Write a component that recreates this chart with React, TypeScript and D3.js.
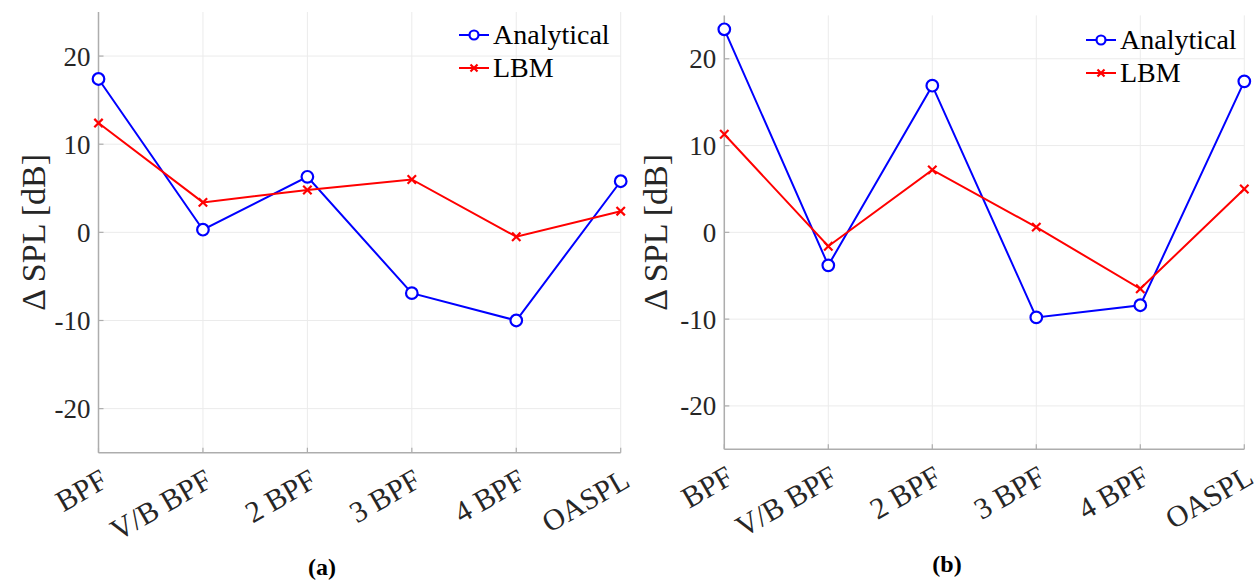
import React from 'react';
import {scalePoint, scaleLinear, line} from 'd3';

// categories and series values
const categories = ['BPF', 'V/B BPF', '2 BPF', '3 BPF', '4 BPF', 'OASPL'];
const yTicks = [-20, -10, 0, 10, 20];

const analyticalA = [17.4, 0.3, 6.3, -6.9, -10.0, 5.8];
const lbmA = [12.4, 3.4, 4.8, 6.0, -0.5, 2.4];

const analyticalB = [23.4, -3.8, 16.9, -9.8, -8.4, 17.4];
const lbmB = [11.3, -1.6, 7.2, 0.6, -6.5, 5.0];

const seriesNames = ['Analytical', 'LBM'];

const font = '"Liberation Serif", "DejaVu Serif", serif';
const textColor = '#262626';
const axisColor = '#adadad';
const gridColor = '#ebebeb';

type PanelProps = {
	x0: number; x1: number; y0: number; y1: number;
	analytical: number[]; lbm: number[];
	legendX: number; legendY: number;
	labelX: number; caption: string; captionX: number; captionY: number;
};

const Circle = ({x, y, r}: {x: number; y: number; r: number}) =>
	<circle cx={x} cy={y} r={r} fill='white' stroke='#0000ff' strokeWidth={2.2} />;

const Cross = ({x, y, s}: {x: number; y: number; s: number}) =>
	<path d={`M${x - s},${y - s}L${x + s},${y + s}M${x - s},${y + s}L${x + s},${y - s}`}
		stroke='#ff0000' strokeWidth={2.2} />;

const Panel = (p: PanelProps) => {
	const sx = scalePoint<string>().domain(categories).range([p.x0, p.x1]).padding(0);
	const sy = scaleLinear().domain([-25, 25]).range([p.y0, p.y1]);
	const gen = line<number>()
		.x((d, i) => sx(categories[i]) as number)
		.y(d => sy(d));
	const midY = (p.y0 + p.y1) / 2;

	return (
		<g>
			{/* grid */}
			{categories.map(c =>
				<line key={c} x1={sx(c)} x2={sx(c)} y1={p.y0} y2={p.y1} stroke={gridColor} strokeWidth={1} />
			)}
			{yTicks.map(t =>
				<line key={t} x1={p.x0} x2={p.x1} y1={sy(t)} y2={sy(t)} stroke={gridColor} strokeWidth={1} />
			)}
			{/* axes */}
			<line x1={p.x0} x2={p.x0} y1={p.y0} y2={p.y1} stroke={axisColor} strokeWidth={1.5} />
			<line x1={p.x0} x2={p.x1} y1={p.y0} y2={p.y0} stroke={axisColor} strokeWidth={1.5} />
			{yTicks.map(t =>
				<g key={t}>
					<line x1={p.x0} x2={p.x0 + 5} y1={sy(t)} y2={sy(t)} stroke={axisColor} strokeWidth={1.2} />
					<text x={p.x0 - 8} y={sy(t)} dy='0.35em' textAnchor='end'
						style={{fontFamily: font, fontSize: 27, fill: textColor}}>{t}</text>
				</g>
			)}
			{categories.map(c =>
				<g key={c}>
					<line x1={sx(c)} x2={sx(c)} y1={p.y0} y2={p.y0 - 5} stroke={axisColor} strokeWidth={1.2} />
					<text transform={`translate(${(sx(c) as number) + 11},${p.y0 + 33}) rotate(-30)`}
						textAnchor='end'
						style={{fontFamily: font, fontSize: 30, fill: textColor}}>{c}</text>
				</g>
			)}
			<text transform={`translate(${p.labelX},${midY}) rotate(-90)`} textAnchor='middle'
				style={{fontFamily: font, fontSize: 34, fill: textColor}}>Δ SPL [dB]</text>

			{/* series */}
			<path d={gen(p.analytical) || ''} fill='none' stroke='#0000ff' strokeWidth={2} />
			<path d={gen(p.lbm) || ''} fill='none' stroke='#ff0000' strokeWidth={2} />
			{p.analytical.map((v, i) =>
				<Circle key={i} x={sx(categories[i]) as number} y={sy(v)} r={5.8} />
			)}
			{p.lbm.map((v, i) =>
				<Cross key={i} x={sx(categories[i]) as number} y={sy(v)} s={4.2} />
			)}

			{/* legend */}
			{seriesNames.map((n, i) => {
				const ly = p.legendY + i * 33;
				return (
					<g key={n}>
						<line x1={p.legendX} x2={p.legendX + 30} y1={ly} y2={ly}
							stroke={i === 0 ? '#0000ff' : '#ff0000'} strokeWidth={2} />
						{i === 0
							? <Circle x={p.legendX + 15} y={ly} r={4.5} />
							: <Cross x={p.legendX + 15} y={ly} s={3.5} />}
						<text x={p.legendX + 34} y={ly + 8.5}
							style={{fontFamily: font, fontSize: 28, fill: '#000'}}>{n}</text>
					</g>
				);
			})}

			<text x={p.captionX} y={p.captionY} textAnchor='middle'
				style={{fontFamily: '"Liberation Serif", serif', fontWeight: 'bold', fontSize: 24, fill: '#000'}}>
				{p.caption}
			</text>
		</g>
	);
};

export default function App() {
	return (
		<svg width={1259} height={582} style={{position: 'absolute', left: 0, top: 0, background: '#fff'}}>
			<rect width={1259} height={582} fill='#fff' />
			<Panel x0={98.5} x1={620.7} y0={452.7} y1={12}
				analytical={analyticalA} lbm={lbmA}
				legendX={459} legendY={35} labelX={45}
				caption='(a)' captionX={322} captionY={575} />
			<Panel x0={724.3} x1={1244.3} y0={449.3} y1={15.4}
				analytical={analyticalB} lbm={lbmB}
				legendX={1086} legendY={40} labelX={667}
				caption='(b)' captionX={947} captionY={572} />
		</svg>
	);
}
